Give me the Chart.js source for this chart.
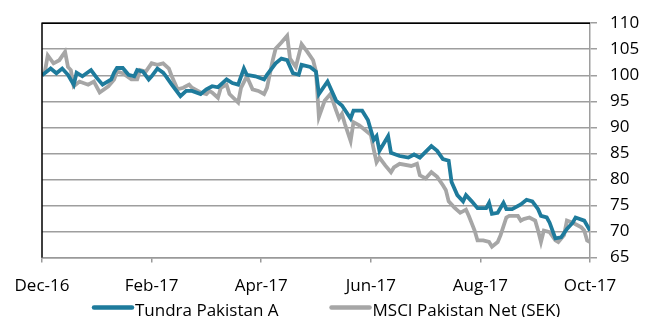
<!DOCTYPE html>
<html>
<head>
<meta charset="utf-8">
<script src="https://cdn.jsdelivr.net/npm/chart.js@4.4.1/dist/chart.umd.min.js"></script>
<style>
  html, body { margin: 0; padding: 0; background: #fff; }
  #wrap { width: 655px; height: 317px; }
</style>
</head>
<body>
<div id="wrap"><canvas id="perfChart"></canvas></div>
<script>
// trading-day index (0 = end of Dec-16) and index value
var tundraDays = [0, 3, 5, 7, 9, 11, 12, 14, 17, 19, 21, 24, 25, 26, 28, 30, 32, 33, 35, 37, 38, 40, 42, 43, 45, 48, 50, 52, 55, 57, 59, 61, 64, 66, 68, 70, 71, 74, 77, 78, 81, 83, 85, 87, 89, 90, 93, 95, 96, 99, 102, 104, 107, 108, 111, 113, 115, 116, 117, 120, 121, 124, 127, 129, 131, 135, 137, 139, 141, 142, 144, 146, 147, 149, 151, 154, 155, 156, 158, 160, 161, 163, 166, 168, 170, 172, 173, 175, 176, 178, 180, 182, 184, 185, 188, 190];
var tundraValues = [100, 101.3, 100.4, 101.3, 100.1, 98.2, 100.5, 99.8, 101, 99.5, 98.2, 99.2, 100.5, 101.4, 101.4, 100.1, 99.8, 101, 100.7, 99.2, 99.8, 101.3, 100.5, 99.8, 98.2, 96, 97, 97, 96.4, 97.3, 97.9, 97.7, 99.2, 98.5, 98.2, 101.3, 100.1, 99.8, 99.2, 100.1, 102.3, 103.2, 102.9, 100.4, 100.1, 102, 101.6, 100.7, 96.4, 98.8, 95.1, 94.2, 91.7, 93.2, 93.2, 91.4, 87.6, 88.3, 85.5, 88.3, 85.1, 84.5, 84.2, 84.8, 84.2, 86.4, 85.5, 83.9, 83.6, 79.5, 77, 75.8, 77, 75.8, 74.5, 74.5, 75.5, 73.4, 73.6, 75.5, 74.3, 74.3, 75.2, 76.1, 75.8, 74.3, 73, 72.7, 71.7, 68.7, 68.9, 70.5, 71.7, 72.7, 72.1, 70.2];

var msciDays = [0, 1, 2, 4, 6, 8, 9, 10, 11, 13, 16, 18, 20, 23, 25, 26, 28, 31, 33, 34, 36, 38, 40, 42, 44, 45, 47, 49, 51, 52, 55, 57, 58, 59, 61, 62, 64, 65, 68, 69, 71, 73, 75, 77, 78, 80, 81, 83, 85, 86, 88, 90, 92, 94, 95, 96, 98, 100, 102, 103, 104, 105, 107, 108, 110, 112, 114, 115, 116, 117, 119, 121, 122, 124, 128, 130, 131, 133, 135, 137, 139, 140, 141, 143, 145, 147, 148, 150, 151, 153, 155, 156, 158, 159, 161, 162, 165, 166, 167, 169, 171, 172, 173, 174, 176, 178, 179, 181, 182, 184, 185, 187, 188, 189, 190];
var msciValues = [100, 100.7, 103.8, 102.3, 102.9, 104.5, 101.6, 101, 97.9, 98.8, 98.2, 98.8, 96.7, 97.9, 99.2, 100.7, 100.4, 99.2, 99.2, 101, 100.7, 102.3, 102, 102.3, 101.3, 99.8, 97.3, 97.6, 98.2, 97.6, 96.7, 96.4, 97, 96.7, 95.7, 97.6, 98.2, 96.4, 94.8, 97.6, 99.8, 97.3, 97, 96.4, 97.6, 102.9, 105.1, 106.3, 107.6, 103.2, 101.6, 106, 104.5, 102.9, 100.7, 92, 95.1, 96.4, 93.2, 91.7, 92.6, 90.7, 87.4, 91, 90.4, 89.5, 88.6, 85.8, 83.3, 84.2, 82.7, 81.4, 82.3, 83, 82.6, 83, 80.8, 80.2, 81.4, 80.5, 78.9, 78, 75.8, 74.6, 73.6, 74.2, 73, 70.2, 68.3, 68.3, 68, 67.1, 68, 69.3, 72.7, 73, 73, 72.1, 72.4, 72.7, 72.1, 70.2, 68, 70.2, 69.9, 68.3, 68, 69.3, 72.1, 71.7, 71.4, 70.8, 70.2, 68.3, 68];

var tickDays = [0, 38, 76, 114, 152, 190];
var tickLabels = ['Dec-16', 'Feb-17', 'Apr-17', 'Jun-17', 'Aug-17', 'Oct-17'];

var seriesNames = ['Tundra Pakistan A', 'MSCI Pakistan Net (SEK)'];
var seriesColors = ['#1E7B9C', '#A6A6A6'];

var labelFont = { family: 'Open Sans', size: 17 };

function toPoints(days, vals) {
  return days.map(function (d, i) { return { x: d, y: vals[i] }; });
}

// black frame on top and left, legend drawn as line + text under the axis
var framePlugin = {
  id: 'frameAndLegend',
  afterDraw: function (chart) {
    var ctx = chart.ctx, a = chart.chartArea;
    ctx.save();
    ctx.strokeStyle = '#000';
    ctx.lineWidth = 1.5;
    ctx.beginPath();
    ctx.moveTo(a.left, a.bottom);
    ctx.lineTo(a.left, a.top);
    ctx.lineTo(a.right, a.top);
    ctx.stroke();

    ctx.font = labelFont.size + 'px "' + labelFont.family + '"';
    ctx.textBaseline = 'alphabetic';
    ctx.fillStyle = '#000';
    var x = 92;
    chart.data.datasets.forEach(function (ds) {
      ctx.strokeStyle = ds.borderColor;
      ctx.lineWidth = 4.5;
      ctx.lineCap = 'round';
      ctx.beginPath();
      ctx.moveTo(x + 2, 307.5);
      ctx.lineTo(x + 40, 307.5);
      ctx.stroke();
      ctx.fillText(ds.label, x + 43, 316);
      x += 43 + ctx.measureText(ds.label).width + 51;
    });
    ctx.restore();
  }
};

var ctx = document.getElementById('perfChart');
var perfChart = new Chart(ctx, {
  type: 'line',
  data: {
    datasets: [{
      label: seriesNames[0],
      data: toPoints(tundraDays, tundraValues),
      borderColor: seriesColors[0],
      borderWidth: 3.8,
      pointRadius: 0,
      tension: 0
    }, {
      label: seriesNames[1],
      data: toPoints(msciDays, msciValues),
      borderColor: seriesColors[1],
      borderWidth: 3.8,
      pointRadius: 0,
      tension: 0
    }]
  },
  options: {
    responsive: true,
    maintainAspectRatio: false,
    animation: false,
    layout: { padding: { left: 42, right: 0, top: 2, bottom: 8 } },
    plugins: {
      legend: { display: false },
      tooltip: { enabled: false }
    },
    scales: {
      x: {
        type: 'linear',
        min: 0,
        max: 190,
        afterBuildTicks: function (axis) {
          axis.ticks = tickDays.map(function (d) { return { value: d }; });
        },
        ticks: {
          autoSkip: false,
          maxRotation: 0,
          padding: 13,
          color: '#000',
          font: labelFont,
          callback: function (v) { return tickLabels[tickDays.indexOf(v)]; }
        },
        grid: { drawOnChartArea: false, drawTicks: true, tickLength: 5, color: '#999', lineWidth: 1.5 },
        border: { color: '#999', width: 1.5 }
      },
      y: {
        position: 'right',
        min: 65,
        max: 110,
        afterFit: function (axis) { axis.width = 65; },
        ticks: {
          stepSize: 5,
          padding: 13,
          color: '#000',
          font: labelFont
        },
        grid: { color: '#9E9E9E', lineWidth: 1.5, tickLength: 7 },
        border: { color: '#9E9E9E', width: 1.5 }
      }
    }
  },
  plugins: [framePlugin]
});
</script>
</body>
</html>
